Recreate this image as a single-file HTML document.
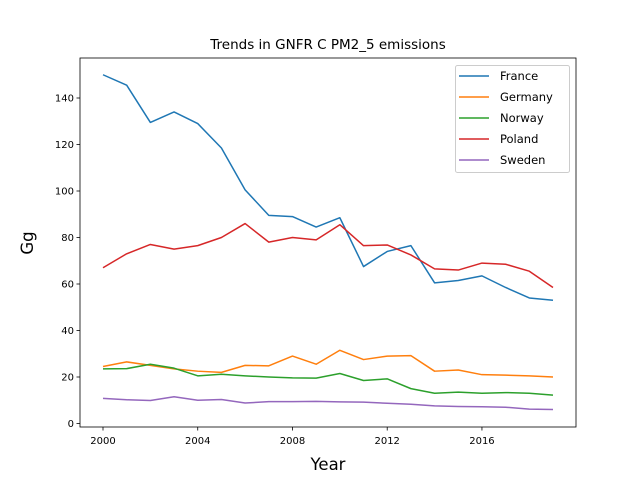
<!DOCTYPE html>
<html><head><meta charset="utf-8"><style>
body{margin:0;background:#fff;font-family:"DejaVu Sans","Liberation Sans",sans-serif}
</style></head><body>
<svg id="c" width="640" height="480" xmlns="http://www.w3.org/2000/svg"></svg>
<script>
const years=[2000,2001,2002,2003,2004,2005,2006,2007,2008,2009,2010,2011,2012,2013,2014,2015,2016,2017,2018,2019];
const france=[150,145.5,129.5,134,129,118.5,100.5,89.5,89,84.5,88.5,67.5,74,76.5,60.5,61.5,63.5,58.5,54,53];
const germany=[24.5,26.5,25,23.5,22.5,22,25,24.8,29,25.5,31.5,27.5,29,29.2,22.5,23,21,20.8,20.5,20];
const norway=[23.5,23.6,25.5,23.8,20.5,21.2,20.5,20,19.6,19.5,21.5,18.5,19.2,15,13,13.5,13,13.3,13,12.2];
const poland=[67,73,77,75,76.5,80,86,78,80,79,85.5,76.5,76.8,72.5,66.5,66,69,68.5,65.5,58.5];
const sweden=[10.8,10.2,9.9,11.5,10,10.3,8.8,9.4,9.4,9.5,9.3,9.2,8.7,8.3,7.6,7.3,7.2,7,6.2,6];
const xTicks=[2000,2004,2008,2012,2016];
const yTicks=[0,20,40,60,80,100,120,140];
const seriesNames=["France","Germany","Norway","Poland","Sweden"];
const seriesData=[france,germany,norway,poland,sweden];
const colors=["#1f77b4","#ff7f0e","#2ca02c","#d62728","#9467bd"];
const L=80,R=576,T=58,B=427;
const x=v=>103+(v-2000)*(553-103)/19;
const y=v=>423.5-v*(423.5-98)/140;
const svg=document.getElementById('c');
const NS="http://www.w3.org/2000/svg";
function mk(t,a,p){const e=document.createElementNS(NS,t);for(const k in a)e.setAttribute(k,a[k]);(p||svg).appendChild(e);return e;}
const frame=mk('rect',{x:L,y:T,width:R-L,height:B-T,fill:'none',stroke:'#000','stroke-width':0.8});


xTicks.forEach(v=>{
 const t=mk('line',{x1:x(v),x2:x(v),y1:B,y2:B+3.5,stroke:'#000','stroke-width':0.8});
 
 
 const l=mk('text',{x:x(v),y:B+17,'text-anchor':'middle','font-size':10});
 l.textContent=v;
 
 
});
yTicks.forEach(v=>{
 const t=mk('line',{x1:L-3.5,x2:L,y1:y(v),y2:y(v),stroke:'#000','stroke-width':0.8});
 
 
 const l=mk('text',{x:L-6,y:y(v)+3.5,'text-anchor':'end','font-size':10});
 l.textContent=v;
 
 
});
seriesData.forEach((d,i)=>{
 const p=mk('polyline',{points:d.map((v,j)=>x(years[j])+','+y(v)).join(' '),fill:'none',stroke:colors[i],'stroke-width':1.5,'stroke-linejoin':'round'});
 
 
});
const lg=mk('g',{});


mk('rect',{x:455.5,y:65.5,width:114,height:107,rx:2,fill:'#fff','fill-opacity':0.8,stroke:'#ccc'},lg);
seriesNames.forEach((n,i)=>{
 const yy=76+i*21;
 mk('line',{x1:459,x2:489,y1:yy,y2:yy,stroke:colors[i],'stroke-width':1.5},lg);
 const t=mk('text',{x:500,y:yy+4,'font-size':11.5},lg);
 t.textContent=n;
 
 
});
const ti=mk('text',{x:328,y:49,'text-anchor':'middle','font-size':13.5});
ti.textContent='Trends in GNFR C PM2_5 emissions';


const xt=mk('text',{x:328,y:470,'text-anchor':'middle','font-size':16.5});
xt.textContent='Year';


const yt=mk('text',{x:33,y:243,'text-anchor':'middle','font-size':16.5,transform:'rotate(-90 33 243)'});
yt.textContent='Gg';


</script>
</body></html>
